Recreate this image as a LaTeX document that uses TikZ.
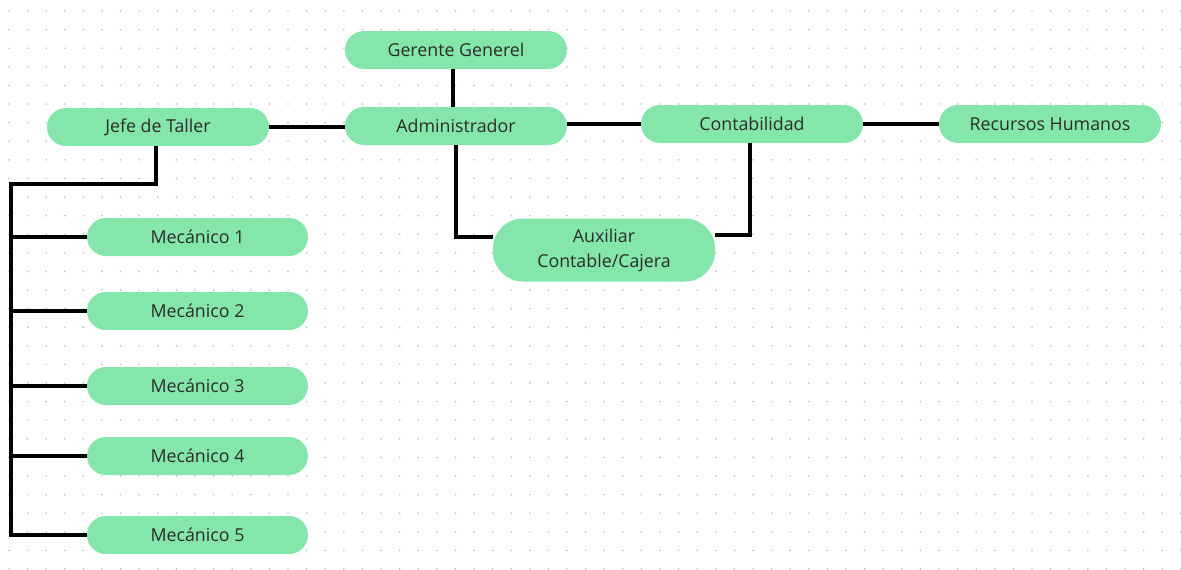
\documentclass[tikz,border=0pt]{standalone}
\usepackage{fontspec}
\setmainfont{Open Sans}
\definecolor{boxgreen}{HTML}{84E6AA}
\definecolor{txt}{HTML}{2B2B2B}
\definecolor{dotc}{HTML}{BFC3CC}
\begin{document}
\begin{tikzpicture}[x=1pt,y=-1pt,
  box/.style={rectangle,rounded corners=19pt,fill=boxgreen,draw=none,minimum width=222pt,minimum height=38pt,inner sep=0pt,text=txt,font=\fontsize{17.8}{25}\selectfont,align=center},
  tallbox/.style={box,minimum height=63pt,rounded corners=30pt},
  link/.style={line width=3.6pt,draw=black,line join=miter}]
\useasboundingbox[fill=white] (0,0) rectangle (1181,570);
% dot grid
\foreach \i in {0,...,63}{
  \foreach \j in {0,...,30}{
    \fill[dotc] (9+18.6*\i,11+18.6*\j) circle (0.95pt);
  }
}
% nodes
\node[box] (ger) at (456,50) {Gerente Generel};
\node[box] (adm) at (456,126) {Administrador};
\node[box] (jefe) at (158,127) {Jefe de Taller};
\node[box] (con) at (752,124) {Contabilidad};
\node[box] (rh) at (1050,124) {Recursos Humanos};
\node[tallbox] (aux) at (604,250) {Auxiliar\\Contable/Cajera};
\node[box,minimum width=221pt] (m1) at (197.5,237) {Mecánico 1};
\node[box,minimum width=221pt] (m2) at (197.5,311) {Mecánico 2};
\node[box,minimum width=221pt] (m3) at (197.5,386) {Mecánico 3};
\node[box,minimum width=221pt] (m4) at (197.5,456) {Mecánico 4};
\node[box,minimum width=221pt] (m5) at (197.5,535) {Mecánico 5};
\coordinate (bus) at (11,184);
% connectors
\draw[link] ([xshift=-3pt]ger.south) -- ([xshift=-3pt]adm.north);
\draw[link] (jefe.east) -- (jefe.east -| adm.west);
\draw[link] (adm.east |- con.west) -- (con.west);
\draw[link] (con.east) -- (rh.west);
\draw[link] (adm.south) |- ([yshift=13pt]aux.west);
\draw[link] ([xshift=-2pt]con.south) |- ([yshift=15pt]aux.east);
\draw[link] ([xshift=-2pt]jefe.south) |- (bus) -- (bus |- m5.west) -- (m5.west);
\draw[link] (bus |- m1.west) -- (m1.west);
\draw[link] (bus |- m2.west) -- (m2.west);
\draw[link] (bus |- m3.west) -- (m3.west);
\draw[link] (bus |- m4.west) -- (m4.west);
\end{tikzpicture}
\end{document}
